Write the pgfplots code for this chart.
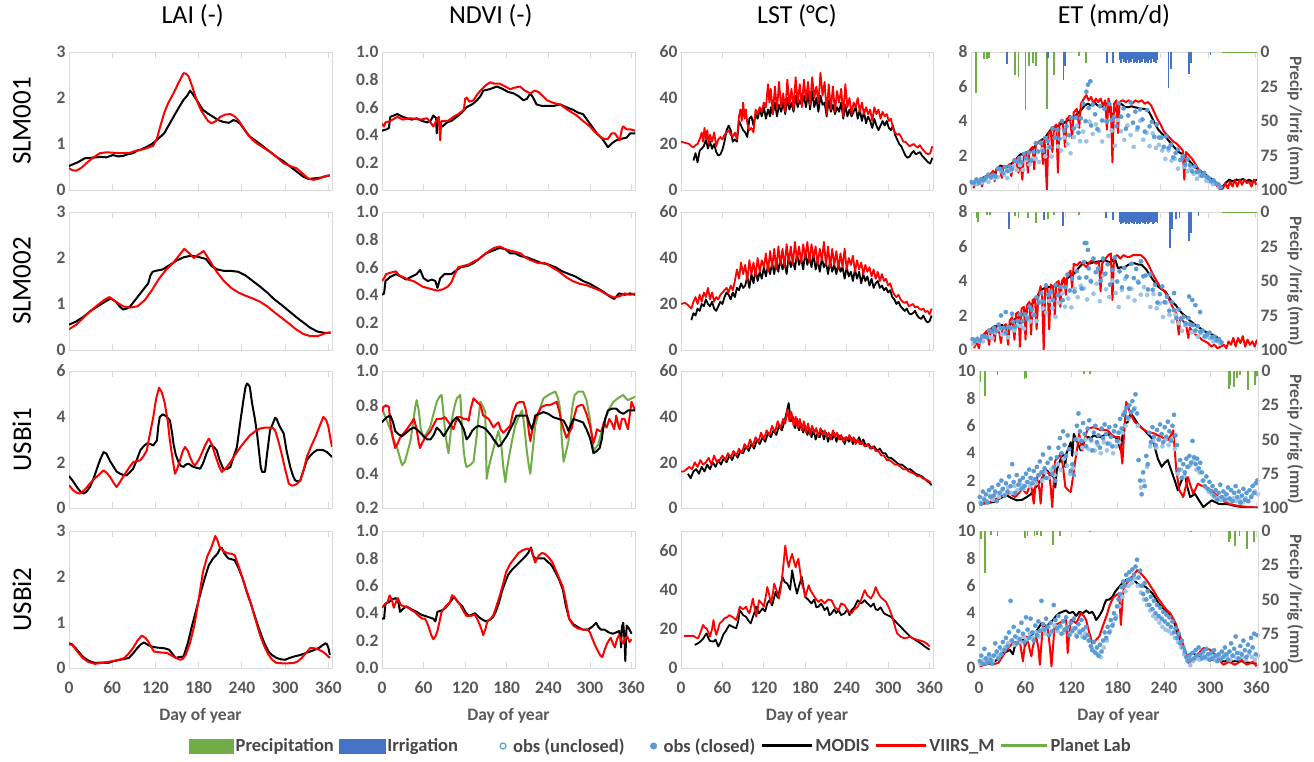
\documentclass[border=0pt]{standalone}
\usepackage{pgfplots}
\pgfplotsset{compat=1.18}
\usepackage{fontspec}
\setmainfont{Carlito}

\definecolor{txtgray}{HTML}{595959}
\definecolor{framegray}{HTML}{D9D9D9}
\definecolor{viirsred}{HTML}{FF0000}
\definecolor{planetgreen}{HTML}{70AD47}
\definecolor{precipgreen}{HTML}{70AD47}
\definecolor{irrigblue}{HTML}{4472C4}
\definecolor{obsdark}{HTML}{5B9BD5}
\definecolor{obslight}{HTML}{9DC3E6}

\pgfplotsset{
  base/.style={
    scale only axis, anchor=north west,
    xmin=0, xmax=365, xtick={0,60,...,360},
    axis line style={framegray, line width=0.9pt},
    xtick style={framegray, line width=0.9pt},
    ytick style={draw=none},
    tick align=inside, major tick length=6pt,
    tick label style={font=\bfseries\fontsize{17.5}{17.5}\selectfont, text=txtgray},
    /pgf/number format/assume math mode=true,
  },
  noxlab/.style={xticklabels={}},
  daylab/.style={xlabel={Day of year},
    xticklabel style={yshift=-10pt},
    xlabel style={font=\bfseries\fontsize{17.5}{17.5}\selectfont, text=txtgray,
      at={(axis description cs:0.5,-0.35)}, anchor=center}},
  rowlab/.style={ylabel={#1},
    ylabel style={font=\fontsize{27}{27}\selectfont, text=black,
      at={(axis description cs:-0.179,0.5)}, anchor=center}},
  coltitle/.style 2 args={title={#1},
    title style={font=\fontsize{26}{26}\selectfont, text=black,
      at={(axis description cs:#2,1.217)}, anchor=center}},
  onedec/.style={yticklabel style={/pgf/number format/.cd, fixed, fixed zerofill, precision=1}},
  modisline/.style={black, line width=2pt, line join=round},
  viirsline/.style={viirsred, line width=2pt, line join=round},
  planetline/.style={planetgreen, line width=2pt, line join=round},
  obsclosed/.style={only marks, mark=*, mark size=2.1pt, mark options={fill=obsdark, draw=obsdark}},
  obsunclosed/.style={only marks, mark=*, mark size=2.1pt, mark options={fill=obslight, draw=obslight}},
  precipbar/.style={ycomb, precipgreen, line width=1.8pt},
  irrigbar/.style={ycomb, irrigblue, line width=1.8pt},
  rightax/.style={base, xmax=362, axis y line*=right, axis x line=none,
    ymin=0, ymax=100, y dir=reverse, ytick={0,25,50,75,100},
    ylabel={Precip /Irrig (mm)},
    ylabel style={font=\bfseries\fontsize{17.5}{17.5}\selectfont, text=txtgray,
      at={(axis description cs:1.133,0.5)}, anchor=center, rotate=180}},
}

\begin{document}
\begin{tikzpicture}
\useasboundingbox (0,0) rectangle (1314pt,762pt);

%================ Row 1 : SLM001 ================
\begin{axis}[base, noxlab, at={(69pt,710pt)}, width=263pt, height=138pt,
  ymin=0, ymax=3, ytick={0,1,2,3}, rowlab={SLM001}, coltitle={LAI (-)}{0.47}]
\addplot[modisline] coordinates {(0,0.5)(1,0.53)(12,0.6)(22,0.69)(32,0.7)(43,0.72)(52,0.71)(61,0.76)(68,0.73)(75,0.74)(82,0.78)(89,0.8)(95,0.86)(100,0.88)(108,0.94)(115,1.0)(122,1.09)(132,1.23)(140,1.45)(145,1.59)(152,1.78)(159,1.96)(164,2.05)(168,2.16)(172,2.08)(177,1.96)(186,1.74)(193,1.66)(200,1.59)(207,1.52)(214,1.48)(222,1.46)(228,1.52)(232,1.5)(237,1.45)(244,1.3)(251,1.16)(260,1.06)(270,0.94)(279,0.83)(288,0.72)(298,0.62)(307,0.51)(316,0.4)(325,0.29)(332,0.24)(339,0.25)(350,0.27)(362,0.32)};
\addplot[viirsline] coordinates {(0,0.47)(5,0.43)(10,0.42)(17,0.48)(24,0.58)(33,0.7)(43,0.8)(52,0.82)(61,0.81)(73,0.8)(85,0.81)(92,0.85)(99,0.87)(106,0.9)(113,0.94)(117,0.96)(122,1.12)(127,1.4)(132,1.67)(138,1.9)(145,2.1)(152,2.33)(159,2.54)(162,2.53)(166,2.47)(171,2.25)(177,1.96)(183,1.74)(189,1.59)(193,1.5)(198,1.45)(204,1.5)(210,1.59)(217,1.64)(224,1.65)(230,1.6)(235,1.52)(241,1.38)(247,1.23)(254,1.1)(261,1.01)(270,0.92)(279,0.83)(288,0.72)(298,0.58)(307,0.52)(316,0.47)(324,0.36)(332,0.25)(339,0.22)(346,0.24)(353,0.29)(362,0.32)};
\end{axis}

\begin{axis}[base, noxlab, at={(382pt,710pt)}, width=253pt, height=138pt,
  ymin=0, ymax=1, ytick={0,0.2,...,1.0}, onedec, coltitle={NDVI (-)}{0.43}]
\addplot[modisline] coordinates {(0,0.43)(7,0.44)(10,0.45)(12,0.53)(17,0.54)(22,0.55)(30,0.53)(36,0.52)(43,0.51)(50,0.52)(58,0.5)(65,0.49)(70,0.5)(74,0.54)(78,0.52)(79,0.41)(80,0.5)(82,0.48)(87,0.46)(94,0.49)(100,0.5)(108,0.53)(115,0.56)(122,0.6)(130,0.62)(137,0.65)(142,0.68)(146,0.72)(155,0.73)(166,0.75)(175,0.73)(182,0.71)(190,0.7)(197,0.68)(204,0.65)(209,0.66)(214,0.7)(218,0.67)(223,0.62)(230,0.61)(238,0.61)(248,0.61)(257,0.62)(266,0.6)(276,0.58)(283,0.56)(290,0.55)(300,0.48)(310,0.41)(318,0.37)(326,0.31)(332,0.34)(338,0.36)(345,0.37)(353,0.38)(358,0.41)(365,0.41)};
\addplot[viirsline] coordinates {(0,0.48)(3,0.46)(5,0.49)(12,0.5)(22,0.53)(30,0.51)(41,0.52)(55,0.51)(65,0.52)(70,0.49)(74,0.46)(78,0.5)(82,0.53)(83,0.43)(84,0.36)(85,0.47)(86,0.5)(95,0.5)(103,0.53)(110,0.55)(118,0.58)(120,0.66)(122,0.67)(126,0.64)(132,0.65)(137,0.69)(142,0.72)(150,0.76)(156,0.78)(162,0.77)(170,0.77)(178,0.75)(185,0.73)(190,0.74)(199,0.75)(206,0.72)(214,0.7)(220,0.72)(226,0.71)(232,0.68)(238,0.65)(248,0.63)(257,0.62)(268,0.58)(281,0.54)(290,0.5)(300,0.46)(307,0.42)(314,0.39)(320,0.37)(326,0.37)(331,0.41)(336,0.41)(340,0.38)(343,0.36)(346,0.44)(348,0.46)(353,0.44)(358,0.44)(365,0.43)};
\end{axis}

\begin{axis}[base, noxlab, at={(681pt,710pt)}, width=252pt, height=138pt,
  ymin=0, ymax=60, ytick={0,20,40,60}, coltitle={LST (°C)}{0.46}]
\addplot[modisline, line width=1.8pt] coordinates {(18,12.8)(21,16)(24,12)(27,17)(30,18)(33,19)(36,22)(39,18)(42,21)(45,17.9)(48,20)(51,16.5)(54,15)(57,15.5)(60,17.5)(63,21)(66,26)(69,28)(72,26)(75,21)(78,22)(81,21)(84,30)(87,28)(90,26)(93,25)(96,23)(99,31)(102,32)(105,28)(108,33)(111,31)(114,35)(117,32)(120,36)(123,31)(126,35)(129,32)(130,36)(133,33)(136,38)(139,32)(142,37)(145,34)(148,38)(151,33)(154,40)(157,35)(160,38)(163,34)(166,41)(169,36)(172,39)(175,37)(178,41)(181,36)(184,42)(187,35)(190,43)(193,36)(196,40)(199,34)(202,41)(205,37)(208,38)(211,32)(214,39)(217,34)(220,37)(223,33)(226,36)(229,34)(232,38)(235,31)(238,37)(241,32)(244,35)(247,32)(250,34)(253,36)(256,31)(259,35)(262,30)(265,34)(268,29)(271,32)(274,30)(277,27)(280,31)(283,28)(286,26)(289,28)(292,30)(295,28)(298,30)(301,27)(304,26)(307,28)(310,24)(313,22)(316,20)(319,19)(322,17)(325,15)(328,14)(331,14.5)(334,16)(337,17)(340,15.5)(343,16)(346,16.5)(349,15)(352,14)(355,13)(358,12)(361,11.5)(364,14)};
\addplot[viirsline, line width=1.8pt] coordinates {(0,21)(6,20.5)(12,20)(15,19)(18,18.5)(21,19.5)(24,20)(27,22)(30,25)(32,21)(34,27)(36,22)(38,26)(40,20)(42,24)(45,21)(48,25)(51,19)(54,22)(57,23)(60,22)(63,24)(66,25)(69,26)(72,24)(75,23)(78,25)(81,22)(84,32)(86,35)(88,30)(90,38)(92,31)(94,35)(96,29)(99,26)(102,27)(105,25)(108,35)(111,33)(114,36)(117,34)(120,38)(123,36)(126,46)(128,38)(130,44)(133,33)(136,45)(139,35)(142,47)(145,36)(148,42)(151,34)(154,48)(157,37)(160,44)(163,35)(166,49)(169,38)(172,46)(175,36)(178,48)(181,39)(184,47)(187,37)(190,49)(193,40)(196,45)(199,38)(202,51)(205,41)(208,47)(211,33)(214,46)(217,35)(220,45)(223,34)(226,43)(229,38)(232,44)(235,32)(238,46)(241,36)(244,40)(247,33)(250,38)(253,36)(256,40)(259,34)(262,38)(265,33)(268,36)(271,33)(274,35)(277,30)(280,36)(283,33)(286,35)(289,31)(292,34)(295,32)(298,33)(301,30)(304,31)(307,27)(310,25)(313,24)(316,24.5)(319,23)(322,21)(325,21)(328,20)(331,19)(334,19.5)(337,20)(340,19)(343,18.5)(346,19.5)(349,18)(352,17)(355,16)(358,15.5)(361,16)(364,19)};
\end{axis}

\begin{axis}[base, noxlab, xmax=362, at={(971pt,710pt)}, width=286pt, height=138pt,
  ymin=0, ymax=8, ytick={0,2,...,8}, coltitle={ET (mm/d)}{0.5}]
\addplot[obsunclosed] coordinates {(2,0.35)(6,0.34)(10,0.4)(14,0.44)(18,0.59)(22,0.47)(26,0.75)(30,0.68)(34,0.75)(38,1.09)(42,0.89)(46,0.69)(50,1.1)(54,1.38)(58,1.15)(62,1.44)(66,1.17)(70,1.74)(74,1.48)(78,1.82)(82,1.81)(86,1.62)(90,2.36)(94,1.95)(98,2.48)(102,1.94)(106,3.03)(110,2.53)(114,2.29)(118,3.04)(122,2.65)(126,2.13)(130,3.07)(134,3.72)(138,2.83)(142,3.38)(146,2.82)(150,3.96)(154,3.25)(158,3.8)(162,3.42)(166,2.81)(170,4.0)(174,3.14)(178,3.45)(182,2.56)(186,4.05)(190,3.4)(194,2.91)(198,3.74)(202,3.19)(206,2.5)(210,3.48)(214,4.01)(218,2.91)(222,3.31)(226,2.54)(230,3.28)(234,2.44)(238,2.62)(242,2.29)(246,1.8)(250,2.3)(254,1.7)(258,1.82)(262,1.24)(266,1.76)(270,1.35)(274,1.08)(278,1.25)(282,0.94)(286,0.65)(290,0.82)(294,0.83)(298,0.53)(302,0.5)(306,0.33)(310,0.36)(314,0.2)};
\addplot[obsclosed] coordinates {(1,0.46)(4,0.43)(7,0.61)(10,0.43)(13,0.63)(16,0.56)(19,0.72)(22,0.89)(25,0.73)(28,0.88)(31,0.8)(34,1.24)(37,1.23)(40,0.99)(43,1.34)(46,1.1)(49,1.36)(52,1.22)(55,1.72)(58,1.63)(61,1.84)(64,1.61)(67,2.09)(70,1.84)(73,2.18)(76,1.7)(79,2.2)(82,2.71)(85,2.23)(88,2.73)(91,2.26)(94,3.02)(97,2.83)(100,2.48)(103,3.57)(106,3.03)(109,3.47)(112,2.97)(115,4.0)(118,3.43)(121,3.68)(124,3.17)(127,4.18)(130,3.57)(133,4.2)(136,3.32)(139,4.15)(142,5.0)(145,3.99)(146,5.7)(148,6.1)(149,4.75)(151,6.3)(152,3.74)(154,4.95)(157,4.39)(160,3.53)(163,4.86)(166,4.03)(169,4.7)(172,3.95)(175,4.99)(178,4.05)(181,4.23)(184,3.71)(187,5.02)(190,4.25)(193,4.73)(196,3.55)(199,4.32)(202,5.08)(205,3.9)(208,4.54)(211,3.62)(214,4.67)(217,4.09)(220,3.38)(223,4.63)(226,3.69)(229,3.95)(232,3.08)(235,3.8)(238,3.04)(241,3.04)(244,2.5)(247,3.11)(250,2.44)(253,2.62)(256,1.89)(259,2.14)(262,2.36)(265,1.74)(268,1.95)(271,1.48)(274,1.78)(277,1.44)(280,1.08)(283,1.37)(286,1.04)(289,1.08)(292,0.83)(295,0.99)(298,0.76)(301,0.68)(304,0.51)(307,0.56)(310,0.38)(313,0.33)(316,0.16)};
\addplot[modisline] coordinates {(11,0.54)(15,0.7)(20,0.83)(25,0.9)(29,0.93)(33,1.2)(37,1.41)(42,1.35)(46,1.32)(50,1.5)(54,1.61)(59,1.9)(63,2.09)(67,2.0)(71,2.19)(76,2.3)(80,2.48)(84,2.7)(88,2.87)(93,3.0)(97,3.25)(101,3.5)(105,3.64)(110,3.7)(114,3.83)(118,3.9)(122,4.03)(127,4.1)(131,4.22)(135,4.45)(139,4.61)(144,4.9)(148,5.0)(152,4.9)(156,5.1)(160,4.9)(165,4.8)(169,5.0)(173,5.0)(176,4.6)(178,4.13)(180,4.4)(182,4.61)(186,4.9)(190,5.0)(195,4.8)(199,4.8)(203,4.85)(207,4.8)(212,4.75)(216,4.7)(220,4.7)(224,4.61)(228,4.3)(233,3.83)(237,3.5)(242,3.25)(246,3.1)(250,2.87)(255,2.6)(259,2.38)(263,2.2)(267,2.09)(272,1.9)(276,1.7)(280,1.5)(284,1.32)(289,1.15)(293,1.03)(297,0.9)(301,0.74)(306,0.6)(310,0.45)(314,0.3)(318,0.15)(322,0.4)(327,0.6)(331,0.5)(336,0.6)(340,0.55)(344,0.64)(348,0.5)(352,0.6)(357,0.45)(362,0.6)};
\addplot[viirsline] coordinates {(3,0.1)(6,0.4)(9,0.3)(12,0.6)(14,0.2)(16,0.7)(20,0.8)(24,0.9)(28,1.1)(30,0.5)(32,1.2)(36,1.3)(39,0.7)(41,1.4)(45,1.3)(49,1.5)(51,0.8)(53,1.6)(57,1.8)(60,1.0)(62,1.9)(65,0.6)(67,2.1)(70,2.2)(72,1.0)(74,2.3)(78,2.5)(80,1.2)(82,2.6)(86,2.8)(89,2.9)(91,1.5)(93,3.0)(96,0.0)(98,3.3)(101,3.4)(103,2.2)(105,3.6)(108,3.8)(110,1.0)(112,3.9)(116,4.0)(119,2.5)(121,4.1)(125,4.3)(128,3.0)(130,4.5)(134,4.7)(137,3.6)(139,5.0)(143,5.3)(146,5.5)(149,5.2)(152,5.4)(155,5.0)(158,5.3)(161,5.1)(164,5.3)(167,4.9)(170,5.2)(172,3.5)(174,5.3)(177,4.8)(179,1.6)(181,5.0)(184,5.2)(186,3.3)(188,5.1)(192,5.2)(196,5.1)(200,5.2)(204,5.0)(208,5.2)(212,5.1)(216,5.2)(220,5.0)(224,5.1)(228,4.9)(232,4.5)(236,4.1)(240,3.8)(244,3.4)(248,3.2)(252,3.0)(256,2.8)(260,2.7)(264,2.5)(268,2.3)(270,0.6)(272,2.2)(276,2.0)(280,1.8)(284,1.5)(288,1.2)(292,1.0)(296,0.8)(300,0.6)(304,0.5)(308,0.4)(312,0.2)(316,0.0)(319,0.1)(322,0.4)(325,0.1)(328,0.5)(331,0.2)(334,0.6)(337,0.2)(340,0.6)(343,0.3)(346,0.6)(349,0.4)(352,0.5)(355,0.2)(358,0.6)(361,0.3)};
\end{axis}
\begin{axis}[rightax, at={(971pt,710pt)}, width=286pt, height=138pt]
\addplot[precipbar] coordinates {(6,30)(16,5)(20,5)(23,4)(46,8)(56,17)(60,18)(69,42)(73,10)(78,8)(82,10)(96,41)(105,17)(137,3)(146,8)};
\addplot[precipgreen, line width=1.5pt] coordinates {(318,0.5)(362,0.5)};
\addplot[irrigbar] coordinates {(46,9)(97,4)(117,20)(119,10)(172,8)(180,8)(188,6)(190,8)(192,5)(194,7)(196,8)(198,6)(200,8)(202,7)(204,5)(206,8)(208,7)(210,8)(212,6)(214,8)(216,7)(218,5)(220,8)(222,7)(224,8)(226,6)(228,8)(230,5)(232,7)(234,8)(236,6)(250,26)(253,12)(276,16)(278,8)(303,2)};
\end{axis}

%================ Row 2 : SLM002 ================
\begin{axis}[base, noxlab, at={(69pt,550pt)}, width=263pt, height=138pt,
  ymin=0, ymax=3, ytick={0,1,2,3}, rowlab={SLM002}]
\addplot[modisline] coordinates {(0,0.55)(10,0.62)(20,0.72)(30,0.85)(40,0.95)(50,1.05)(58,1.12)(65,1.05)(70,0.95)(75,0.88)(80,0.9)(85,0.95)(95,1.15)(105,1.35)(110,1.45)(113,1.62)(116,1.7)(120,1.72)(130,1.75)(140,1.85)(150,1.95)(160,2.02)(170,2.05)(180,2.02)(190,1.98)(198,1.82)(206,1.75)(215,1.72)(225,1.72)(235,1.7)(245,1.62)(255,1.5)(265,1.38)(275,1.25)(285,1.1)(295,0.98)(305,0.85)(315,0.72)(325,0.6)(335,0.48)(345,0.4)(355,0.37)(363,0.38)};
\addplot[viirsline] coordinates {(0,0.45)(10,0.55)(20,0.7)(30,0.85)(40,0.98)(50,1.1)(56,1.15)(65,1.05)(75,0.95)(85,0.92)(95,0.95)(105,1.08)(115,1.3)(125,1.55)(135,1.75)(145,1.9)(155,2.1)(160,2.2)(167,2.1)(173,2.0)(180,2.08)(187,2.15)(195,1.95)(205,1.7)(215,1.5)(225,1.35)(235,1.25)(245,1.18)(255,1.12)(265,1.05)(275,0.95)(285,0.82)(295,0.7)(305,0.58)(315,0.45)(325,0.35)(335,0.3)(345,0.3)(355,0.36)(363,0.38)};
\end{axis}

\begin{axis}[base, noxlab, at={(382pt,550pt)}, width=253pt, height=138pt,
  ymin=0, ymax=1, ytick={0,0.2,...,1.0}, onedec]
\addplot[modisline] coordinates {(0,0.4)(3,0.41)(5,0.5)(12,0.53)(20,0.55)(28,0.53)(35,0.51)(42,0.53)(50,0.55)(55,0.58)(60,0.52)(66,0.5)(72,0.51)(77,0.5)(80,0.45)(84,0.52)(90,0.55)(100,0.55)(108,0.58)(114,0.6)(124,0.61)(132,0.63)(140,0.66)(150,0.7)(160,0.72)(170,0.74)(178,0.73)(185,0.7)(192,0.7)(200,0.68)(210,0.67)(220,0.65)(230,0.63)(240,0.62)(250,0.6)(260,0.57)(270,0.55)(280,0.53)(290,0.5)(300,0.48)(310,0.45)(320,0.42)(328,0.39)(335,0.37)(342,0.41)(350,0.4)(358,0.41)(365,0.4)};
\addplot[viirsline] coordinates {(0,0.5)(3,0.52)(6,0.55)(12,0.56)(20,0.57)(25,0.54)(30,0.53)(38,0.51)(45,0.5)(52,0.48)(58,0.46)(65,0.45)(72,0.44)(80,0.43)(88,0.44)(95,0.46)(100,0.49)(105,0.55)(110,0.6)(118,0.61)(125,0.62)(132,0.64)(140,0.66)(147,0.69)(155,0.72)(162,0.74)(170,0.75)(178,0.73)(185,0.72)(193,0.71)(200,0.7)(207,0.67)(215,0.65)(225,0.63)(235,0.63)(245,0.6)(255,0.57)(265,0.53)(275,0.5)(285,0.48)(295,0.47)(305,0.45)(315,0.43)(325,0.4)(335,0.38)(343,0.39)(350,0.41)(358,0.4)(365,0.41)};
\end{axis}

\begin{axis}[base, noxlab, at={(681pt,550pt)}, width=252pt, height=138pt,
  ymin=0, ymax=60, ytick={0,20,40,60}]
\addplot[modisline, line width=1.8pt] coordinates {(15,13)(18,16)(21,15)(24,18)(27,17)(30,20)(33,19)(36,22)(39,20)(42,19)(45,21)(48,18)(51,17)(54,19)(57,21)(60,20)(63,23)(66,25)(69,24)(72,22)(75,25)(78,23)(81,27)(84,26)(87,29)(90,27)(93,28)(96,32)(99,27)(102,33)(105,29)(108,35)(111,30)(114,34)(117,31)(120,36)(123,32)(126,37)(129,33)(132,38)(135,33)(138,39)(141,34)(144,40)(147,35)(150,38)(153,33)(156,41)(159,36)(162,39)(165,35)(168,42)(171,37)(174,40)(177,35)(180,43)(183,37)(186,41)(189,36)(192,42)(195,35)(198,39)(201,34)(204,40)(207,36)(210,38)(213,33)(216,39)(219,34)(222,37)(225,33)(228,38)(231,34)(234,36)(237,31)(240,36)(243,32)(246,34)(249,30)(252,35)(255,31)(258,34)(261,29)(264,33)(267,30)(270,32)(273,28)(276,31)(279,27)(282,29)(285,30)(288,27)(291,28)(294,26)(297,27)(300,25)(303,26)(306,23)(309,22)(312,20)(315,21)(318,19)(321,18)(324,17)(327,18)(330,16)(333,15.5)(336,16)(339,17)(342,15)(345,14)(348,13.5)(351,15)(354,13)(357,12)(360,12.5)(363,15)};
\addplot[viirsline, line width=1.8pt] coordinates {(0,20)(6,20.5)(12,19)(15,18)(18,21)(21,23)(24,20)(27,24)(30,21)(33,25)(36,23)(39,27)(42,22)(45,25)(48,21)(51,23)(54,22)(57,24)(60,25)(63,26)(66,27)(69,25)(72,28)(75,26)(78,30)(81,35)(84,31)(87,38)(90,33)(93,37)(96,30)(99,39)(102,33)(105,38)(108,32)(111,40)(114,34)(117,39)(120,36)(123,42)(126,34)(129,43)(132,36)(135,44)(138,35)(141,45)(144,37)(147,44)(150,36)(153,46)(156,38)(159,45)(162,37)(165,47)(168,39)(171,45)(174,38)(177,46)(180,40)(183,47)(186,38)(189,46)(192,40)(195,45)(198,37)(201,44)(204,39)(207,47)(210,37)(213,45)(216,36)(219,44)(222,37)(225,43)(228,35)(231,42)(234,36)(237,44)(240,35)(243,40)(246,37)(249,41)(252,34)(255,39)(258,35)(261,38)(264,33)(267,37)(270,34)(273,36)(276,32)(279,35)(282,31)(285,34)(288,30)(291,33)(294,30)(297,31)(300,28)(303,29)(306,26)(309,24)(312,23)(315,24)(318,22)(321,21)(324,20.5)(327,21)(330,19)(333,19.5)(336,20)(339,18.5)(342,19)(345,18)(348,17.5)(351,18)(354,16.5)(357,17)(360,15.5)(363,18)};
\end{axis}

\begin{axis}[base, noxlab, xmax=362, at={(971pt,550pt)}, width=286pt, height=138pt,
  ymin=0, ymax=8, ytick={0,2,...,8}]
\addplot[obsunclosed] coordinates {(3,0.34)(7,0.55)(11,0.49)(15,0.5)(19,0.76)(23,0.75)(27,0.68)(31,1.01)(35,1.2)(39,0.9)(43,0.94)(47,0.74)(51,1.25)(55,1.14)(59,1.43)(63,1.39)(67,1.24)(71,1.92)(75,1.66)(79,2.06)(83,1.68)(87,2.82)(91,2.41)(95,2.16)(99,2.85)(103,2.43)(107,1.92)(111,2.74)(115,3.27)(119,2.51)(123,2.98)(127,2.47)(131,3.56)(135,3.06)(139,3.72)(143,3.57)(147,2.93)(151,4.02)(155,3.26)(159,3.84)(163,2.83)(167,4.32)(171,3.52)(175,3.07)(179,4.02)(183,3.3)(187,2.49)(191,3.48)(195,4.12)(199,3.06)(203,3.55)(207,2.87)(211,3.98)(215,3.21)(219,3.65)(223,3.19)(227,2.49)(231,3.24)(235,2.42)(239,2.7)(243,1.91)(247,2.74)(251,2.04)(255,1.65)(259,2.04)(263,1.55)(267,1.11)(271,1.43)(275,1.51)(279,1.03)(283,1.05)(287,0.77)(291,0.98)(295,0.72)(299,0.76)(303,0.66)(307,0.49)(311,0.58)(315,0.38)};
\addplot[obsclosed] coordinates {(2,0.63)(5,0.51)(8,0.65)(11,0.55)(14,0.79)(17,0.78)(20,0.73)(23,1.13)(26,1.04)(29,1.28)(32,1.09)(35,1.47)(38,2.0)(38,1.27)(41,1.27)(44,2.2)(44,1.01)(47,1.33)(50,1.28)(52,2.1)(53,1.65)(56,1.33)(59,1.69)(62,2.07)(65,1.67)(68,2.07)(71,1.82)(74,2.52)(77,2.33)(80,2.02)(83,3.05)(86,2.74)(89,3.29)(92,2.81)(95,3.74)(98,3.2)(101,3.38)(104,2.88)(107,3.77)(110,3.18)(113,3.66)(116,2.89)(119,3.65)(122,4.37)(125,3.45)(128,4.14)(131,3.38)(134,4.57)(137,4.18)(140,3.56)(143,5.1)(144,6.2)(146,6.2)(148,5.8)(146,4.21)(149,4.73)(152,3.97)(155,5.3)(158,4.51)(161,4.72)(164,4.02)(167,5.3)(170,4.42)(173,4.97)(176,3.79)(179,4.64)(182,5.36)(185,3.97)(188,4.56)(191,3.63)(194,4.75)(197,4.26)(200,3.56)(203,5.0)(206,4.17)(209,4.7)(212,3.91)(215,5.14)(218,4.27)(221,4.32)(224,3.51)(227,4.39)(230,3.49)(233,3.78)(236,2.75)(239,3.24)(242,3.68)(245,2.77)(248,3.09)(251,2.28)(254,2.77)(257,3.3)(257,2.31)(260,1.84)(263,2.35)(266,1.81)(269,1.93)(272,1.54)(275,1.85)(276,3.1)(278,1.48)(280,2.9)(281,1.44)(284,2.6)(284,1.13)(287,1.38)(290,2.2)(290,1.06)(293,1.13)(296,0.8)(299,0.9)(302,1.0)(305,0.73)(308,0.78)(311,0.55)(314,0.62)(317,0.44)};
\addplot[modisline] coordinates {(16,0.87)(22,1.1)(29,1.36)(34,1.4)(39,1.45)(46,1.26)(50,1.5)(54,1.74)(60,1.9)(67,2.13)(73,2.5)(80,2.8)(84,3.1)(88,3.48)(94,3.6)(101,3.67)(107,3.7)(114,3.78)(118,4.0)(122,4.16)(126,4.3)(131,4.45)(137,4.8)(144,5.13)(148,5.0)(152,5.03)(156,5.1)(161,5.13)(165,5.15)(169,5.23)(174,5.1)(178,5.13)(182,5.32)(186,4.74)(190,4.8)(193,4.74)(199,4.94)(203,5.0)(207,5.03)(212,4.95)(216,4.94)(222,4.65)(229,4.16)(233,3.9)(237,3.67)(242,3.5)(246,3.39)(250,3.1)(254,2.8)(259,2.61)(263,2.35)(267,2.13)(272,1.95)(276,1.74)(280,1.6)(284,1.45)(289,1.3)(293,1.16)(297,1.05)(301,0.97)(306,0.88)(310,0.78)(316,0.58)};
\addplot[viirsline] coordinates {(4,0.1)(7,0.5)(10,0.1)(12,0.6)(16,0.9)(20,1.1)(23,0.3)(25,1.2)(28,1.3)(30,0.5)(32,1.3)(35,1.2)(38,0.4)(40,1.3)(44,1.5)(47,0.3)(49,1.7)(52,1.9)(55,0.6)(57,2.1)(60,2.2)(62,0.2)(64,2.4)(67,2.5)(69,0.6)(71,2.6)(74,2.8)(76,0.9)(78,2.9)(81,3.0)(83,1.2)(85,3.0)(88,3.7)(90,3.2)(92,0.0)(94,3.8)(97,3.5)(99,1.2)(101,3.8)(104,3.6)(106,2.0)(108,3.9)(111,4.0)(113,2.5)(115,4.0)(118,4.2)(120,3.2)(122,4.3)(126,4.6)(128,3.6)(130,5.0)(134,4.9)(138,5.1)(142,5.0)(146,4.8)(150,5.1)(154,5.2)(158,5.0)(162,5.1)(164,3.4)(166,5.0)(170,5.3)(174,5.5)(177,5.6)(179,2.9)(181,5.4)(185,5.5)(189,5.3)(193,5.5)(197,5.4)(201,5.4)(205,5.5)(210,5.5)(215,5.5)(220,5.3)(225,4.9)(230,4.4)(235,4.0)(240,3.6)(245,3.4)(250,3.0)(255,2.5)(258,2.3)(260,2.1)(263,0.9)(265,1.9)(268,1.7)(272,1.5)(275,0.7)(277,1.3)(280,1.1)(284,0.9)(288,0.8)(292,0.6)(296,0.5)(300,0.4)(304,0.2)(308,0.3)(312,0.1)(316,0.2)(320,0.3)(323,0.1)(326,0.5)(329,0.3)(332,0.7)(335,0.2)(338,0.7)(341,0.4)(344,0.8)(347,0.2)(350,0.6)(353,0.3)(356,0.5)(359,0.2)(362,0.6)};
\end{axis}
\begin{axis}[rightax, at={(971pt,550pt)}, width=286pt, height=138pt]
\addplot[precipbar] coordinates {(7,4)(9,7)(20,2)(24,2)(56,3)(60,4)(72,4)(82,8)(97,5)(105,2)(137,2)};
\addplot[precipgreen, line width=1.5pt] coordinates {(318,0.5)(362,0.5)};
\addplot[irrigbar] coordinates {(48,12)(92,6)(116,10)(171,4)(180,6)(188,7)(190,9)(192,8)(194,7)(196,9)(198,8)(200,9)(202,7)(204,8)(206,9)(208,7)(210,9)(212,8)(214,9)(216,7)(218,8)(220,9)(222,7)(224,9)(226,8)(228,7)(230,9)(232,8)(234,7)(236,8)(252,26)(254,12)(259,5)(264,4)(276,21)(278,15)(288,3)};
\end{axis}

%================ Row 3 : USBi1 ================
\begin{axis}[base, noxlab, at={(69pt,391pt)}, width=263pt, height=137pt,
  ymin=0, ymax=6, ytick={0,2,4,6}, rowlab={USBi1}]
\addplot[modisline] coordinates {(0,1.4)(5,1.2)(11,0.92)(15,0.75)(20,0.63)(24,0.7)(29,0.92)(33,1.2)(38,1.65)(43,2.1)(48,2.45)(52,2.38)(57,2.05)(62,1.8)(66,1.6)(71,1.5)(75,1.45)(80,1.43)(84,1.55)(89,1.72)(94,2.1)(99,2.53)(104,2.72)(108,2.82)(113,2.8)(117,2.74)(122,2.96)(124,3.6)(126,3.99)(130,4.1)(133,4.06)(137,3.95)(140,3.84)(143,3.3)(145,2.82)(148,2.35)(152,2.01)(155,1.85)(159,1.8)(162,1.9)(166,1.94)(170,1.85)(173,1.8)(178,1.75)(182,1.72)(186,1.95)(191,2.4)(196,2.74)(200,2.7)(205,2.53)(209,2.1)(214,1.72)(219,1.7)(224,1.8)(228,2.2)(233,2.67)(237,3.6)(242,4.72)(245,5.3)(247,5.45)(249,5.4)(251,5.3)(254,4.6)(258,3.9)(261,3.26)(264,2.4)(266,1.8)(268,1.58)(272,1.58)(275,2.4)(279,3.4)(283,3.7)(286,3.95)(288,3.91)(292,3.6)(298,3.26)(302,2.5)(307,1.8)(311,1.4)(314,1.21)(318,1.15)(321,1.21)(325,1.6)(330,2.09)(335,2.3)(340,2.45)(344,2.53)(348,2.55)(353,2.53)(358,2.45)(365,2.23)};
\addplot[viirsline] coordinates {(0,1.0)(5,0.8)(10,0.68)(15,0.63)(22,0.8)(29,1.07)(36,1.3)(43,1.5)(48,1.65)(52,1.55)(57,1.36)(62,1.1)(66,0.92)(70,1.1)(75,1.36)(82,1.7)(89,2.01)(94,2.05)(99,2.09)(104,2.3)(108,2.53)(112,3.2)(117,3.99)(121,4.8)(125,5.27)(129,5.05)(133,4.57)(137,3.8)(140,2.96)(144,2.1)(147,1.5)(150,1.7)(154,2.09)(158,2.5)(161,2.67)(165,2.5)(168,2.23)(172,1.95)(175,1.87)(180,2.1)(184,2.38)(189,2.75)(194,3.04)(198,2.8)(203,2.31)(208,1.85)(212,1.58)(218,1.75)(224,2.01)(231,2.35)(238,2.67)(245,2.95)(251,3.18)(258,3.35)(265,3.48)(272,3.52)(279,3.52)(283,3.5)(286,3.4)(290,3.0)(295,2.38)(300,1.7)(305,1.07)(309,0.98)(312,0.99)(316,1.05)(321,1.21)(326,1.7)(330,2.23)(336,2.7)(342,3.11)(348,3.6)(353,3.99)(357,3.85)(360,3.55)(363,3.0)(365,2.67)};
\end{axis}

\begin{axis}[base, noxlab, at={(382pt,391pt)}, width=253pt, height=137pt,
  ymin=0.2, ymax=1, ytick={0.2,0.4,...,1.0}, onedec]
\addplot[planetline] coordinates {(0,0.78)(2,0.76)(7,0.71)(12,0.66)(17,0.6)(22,0.55)(26,0.49)(29,0.45)(33,0.47)(37,0.53)(41,0.59)(45,0.7)(48,0.79)(50,0.83)(53,0.77)(56,0.66)(60,0.61)(65,0.64)(70,0.68)(75,0.76)(79,0.82)(83,0.85)(86,0.86)(88,0.78)(91,0.65)(94,0.56)(96,0.52)(98,0.6)(101,0.72)(105,0.8)(108,0.84)(113,0.86)(115,0.7)(118,0.53)(120,0.47)(122,0.44)(127,0.45)(132,0.47)(136,0.6)(139,0.72)(142,0.82)(146,0.79)(149,0.76)(150,0.55)(151,0.37)(153,0.42)(156,0.47)(161,0.55)(168,0.65)(172,0.57)(175,0.44)(178,0.35)(180,0.42)(182,0.47)(187,0.58)(192,0.68)(197,0.73)(202,0.77)(205,0.69)(209,0.53)(212,0.44)(214,0.4)(217,0.52)(221,0.68)(226,0.76)(233,0.84)(240,0.86)(245,0.87)(250,0.88)(254,0.84)(257,0.78)(259,0.62)(262,0.47)(265,0.52)(269,0.59)(272,0.7)(275,0.8)(278,0.86)(283,0.88)(290,0.88)(295,0.83)(300,0.72)(303,0.62)(305,0.53)(308,0.55)(312,0.57)(317,0.65)(322,0.72)(328,0.78)(334,0.82)(340,0.84)(348,0.86)(352,0.84)(355,0.83)(360,0.84)(365,0.85)};
\addplot[viirsline] coordinates {(0,0.76)(2,0.79)(6,0.8)(10,0.79)(12,0.7)(15,0.62)(19,0.55)(23,0.58)(26,0.61)(30,0.63)(36,0.66)(41,0.69)(46,0.72)(50,0.66)(53,0.58)(55,0.55)(58,0.58)(62,0.61)(66,0.63)(70,0.65)(75,0.69)(79,0.72)(85,0.72)(91,0.73)(96,0.7)(100,0.68)(103,0.66)(106,0.7)(110,0.73)(114,0.73)(118,0.72)(122,0.72)(125,0.71)(128,0.78)(132,0.84)(137,0.82)(142,0.8)(146,0.74)(150,0.73)(154,0.72)(158,0.69)(161,0.67)(165,0.69)(168,0.7)(171,0.66)(175,0.64)(180,0.66)(185,0.68)(189,0.76)(194,0.81)(199,0.82)(204,0.82)(207,0.78)(209,0.74)(212,0.64)(214,0.59)(217,0.66)(221,0.72)(226,0.76)(230,0.79)(236,0.8)(242,0.8)(247,0.81)(252,0.82)(256,0.76)(259,0.7)(262,0.66)(266,0.61)(270,0.64)(274,0.67)(277,0.73)(281,0.79)(286,0.8)(290,0.8)(295,0.75)(300,0.68)(303,0.62)(305,0.58)(308,0.62)(310,0.66)(314,0.65)(317,0.65)(320,0.7)(324,0.67)(328,0.72)(331,0.7)(335,0.66)(338,0.74)(341,0.68)(343,0.66)(346,0.72)(350,0.72)(353,0.68)(355,0.66)(358,0.76)(360,0.82)(363,0.79)(365,0.77)};
\addplot[modisline] coordinates {(0,0.7)(2,0.71)(7,0.73)(12,0.74)(16,0.7)(19,0.65)(24,0.63)(29,0.62)(35,0.64)(41,0.66)(46,0.67)(50,0.66)(55,0.64)(60,0.62)(65,0.6)(70,0.6)(75,0.63)(79,0.67)(84,0.65)(89,0.62)(95,0.66)(101,0.7)(105,0.72)(108,0.73)(113,0.7)(118,0.66)(122,0.6)(126,0.62)(130,0.65)(135,0.67)(139,0.68)(146,0.67)(150,0.66)(154,0.64)(158,0.62)(161,0.6)(165,0.58)(168,0.56)(172,0.57)(175,0.59)(180,0.62)(185,0.66)(190,0.7)(194,0.74)(200,0.74)(205,0.74)(209,0.74)(212,0.7)(216,0.66)(219,0.7)(221,0.74)(227,0.75)(233,0.76)(240,0.75)(247,0.73)(255,0.72)(262,0.71)(266,0.68)(269,0.65)(272,0.68)(276,0.72)(283,0.71)(290,0.7)(295,0.66)(300,0.61)(303,0.56)(305,0.52)(309,0.53)(314,0.55)(317,0.6)(319,0.66)(322,0.72)(326,0.77)(332,0.78)(338,0.78)(343,0.76)(348,0.75)(352,0.76)(355,0.77)(360,0.77)(365,0.77)};
\end{axis}

\begin{axis}[base, noxlab, at={(681pt,391pt)}, width=252pt, height=137pt,
  ymin=0, ymax=60, ytick={0,20,40,60}]
\addplot[modisline, line width=1.8pt] coordinates {(10,15)(14,13)(18,16)(22,17)(26,15)(30,18)(34,16)(38,19)(42,17)(46,20)(50,18)(54,21)(58,19)(62,22)(66,20)(70,23)(74,21)(78,24)(82,22)(86,25)(90,24)(94,27)(98,25)(102,28)(106,26)(110,30)(114,28)(118,31)(122,29)(126,33)(130,31)(134,34)(138,32)(142,36)(146,34)(150,38)(153,42)(156,46)(159,38)(162,40)(165,35)(168,39)(171,34)(174,37)(177,33)(180,36)(183,32)(186,35)(189,31)(192,34)(195,30)(198,33)(201,31)(204,34)(207,30)(210,33)(213,29)(216,32)(219,30)(222,33)(225,29)(228,32)(231,30)(234,31)(237,28)(240,31)(243,29)(246,31)(249,28)(252,30)(255,29)(258,31)(261,28)(264,30)(268,27)(272,28)(276,26)(280,27)(284,25)(288,26)(292,24)(296,24)(300,22)(304,22)(308,21)(312,20)(316,19)(320,19)(324,18)(328,17)(332,17)(336,16)(340,15)(344,14.5)(348,14)(352,13)(356,12)(360,11)(363,10)};
\addplot[viirsline, line width=1.8pt] coordinates {(0,16)(4,16)(8,17)(12,18)(16,17)(20,20)(24,18)(28,21)(32,19)(36,20)(40,22)(44,19)(48,23)(52,20)(56,21)(60,23)(64,21)(68,24)(72,22)(76,25)(80,23)(84,26)(88,24)(92,28)(96,26)(100,30)(104,27)(108,31)(112,29)(116,33)(120,30)(124,34)(128,32)(132,36)(136,33)(140,38)(144,35)(148,39)(151,37)(154,43)(157,38)(160,42)(163,36)(166,40)(169,35)(172,39)(175,34)(178,38)(181,33)(184,37)(187,32)(190,36)(193,33)(196,35)(199,31)(202,35)(205,32)(208,34)(211,31)(214,33)(217,30)(220,34)(223,31)(226,33)(229,30)(232,32)(235,29)(238,31)(241,30)(244,32)(247,29)(250,31)(253,28)(256,30)(259,28)(262,29)(266,27)(270,28)(274,26)(278,27)(282,25)(286,25)(290,23)(294,23)(298,21)(302,21)(306,20)(310,19)(314,19)(318,18)(322,17)(326,17)(330,16)(334,15.5)(338,15)(342,14)(346,14)(350,13)(354,12.5)(358,12)(362,11)};
\end{axis}

\begin{axis}[base, noxlab, xmax=362, at={(979pt,391pt)}, width=279pt, height=137pt,
  ymin=0, ymax=10, ytick={0,2,...,10}]
\addplot[obsunclosed] coordinates {(2,0.4)(6,0.7)(10,0.5)(14,0.9)(18,0.6)(22,1.1)(26,0.8)(30,1.3)(34,1.0)(38,1.5)(42,1.1)(46,1.6)(50,1.3)(54,1.7)(58,1.4)(62,1.9)(66,1.6)(70,2.1)(74,1.8)(78,2.4)(82,2.0)(86,2.6)(90,2.2)(94,2.8)(98,2.4)(102,3.2)(106,2.8)(110,3.6)(114,3.1)(118,2.5)(122,2.9)(126,4.0)(130,5.0)(134,4.4)(138,5.0)(142,4.3)(146,4.9)(150,4.2)(154,4.6)(158,4.0)(162,4.8)(166,4.2)(170,4.7)(174,4.0)(178,4.5)(182,4.8)(186,5.5)(190,6.0)(194,6.5)(198,7.0)(202,7.3)(206,6.0)(210,1.5)(214,2.0)(218,3.0)(222,4.5)(226,4.9)(230,4.4)(234,5.0)(238,4.5)(242,5.0)(246,4.6)(250,5.0)(254,4.3)(258,2.5)(262,2.8)(266,2.3)(270,3.0)(274,3.1)(278,3.4)(282,2.8)(286,2.6)(290,2.0)(294,1.5)(298,1.2)(302,1.0)(306,0.8)(310,0.7)(314,0.6)(318,0.8)(322,0.6)(326,0.5)(330,0.7)(334,0.5)(338,0.6)(342,0.4)(346,0.7)(350,0.5)(354,0.9)(358,1.2)(362,1.0)};
\addplot[obsclosed] coordinates {(1,0.8)(3,0.3)(5,1.2)(7,0.6)(9,1.0)(11,0.4)(13,1.3)(15,0.8)(17,1.5)(19,0.9)(21,1.2)(23,0.5)(25,1.7)(27,1.1)(29,2.0)(31,1.4)(33,0.9)(35,1.8)(37,1.2)(39,2.3)(41,1.6)(43,3.2)(45,1.9)(47,1.1)(49,2.4)(51,1.7)(53,2.0)(55,1.4)(57,2.2)(59,1.6)(61,2.5)(63,1.9)(65,2.8)(67,2.2)(69,1.8)(71,2.7)(73,2.1)(75,3.0)(77,2.4)(79,3.4)(81,2.6)(83,3.9)(85,2.9)(87,2.2)(89,3.3)(91,4.4)(93,3.6)(95,2.5)(97,3.0)(99,2.0)(101,3.7)(103,4.4)(105,5.1)(107,4.0)(109,5.6)(111,4.6)(113,3.8)(115,5.3)(117,4.3)(119,2.7)(121,3.2)(123,2.4)(125,5.0)(127,6.0)(129,6.9)(131,5.6)(133,4.9)(135,6.2)(137,5.4)(139,4.5)(141,5.8)(143,6.4)(145,5.0)(147,4.2)(149,5.5)(151,6.0)(153,4.8)(155,5.3)(157,4.4)(159,5.8)(161,5.1)(163,6.1)(165,5.4)(167,4.7)(169,5.9)(171,5.2)(173,4.5)(175,5.6)(177,6.0)(179,4.9)(181,5.5)(183,6.5)(185,5.8)(187,6.8)(189,7.0)(191,7.3)(193,6.6)(195,7.5)(197,7.0)(199,7.8)(201,7.2)(203,8.3)(205,6.9)(207,3.5)(209,2.0)(211,1.0)(213,2.6)(215,1.6)(217,3.8)(219,3.2)(221,5.5)(223,4.8)(225,5.9)(227,5.2)(229,4.6)(231,5.7)(233,5.0)(235,6.1)(237,5.4)(239,4.8)(241,5.9)(243,5.2)(245,6.3)(247,5.6)(249,4.9)(251,6.0)(253,6.8)(255,5.3)(257,4.6)(259,2.8)(261,3.5)(263,2.2)(265,3.2)(267,2.6)(269,3.6)(271,3.0)(273,3.8)(275,3.3)(277,4.9)(279,3.7)(281,3.2)(283,3.6)(285,2.9)(287,3.3)(289,2.6)(291,2.0)(293,1.6)(295,2.3)(297,1.4)(299,1.9)(301,1.2)(303,1.6)(305,0.9)(307,1.3)(309,0.6)(311,1.1)(313,1.7)(315,0.8)(317,1.2)(319,0.6)(321,1.0)(323,1.5)(325,0.7)(327,1.3)(329,0.5)(331,1.1)(333,1.6)(335,0.8)(337,1.2)(339,0.4)(341,0.9)(343,1.4)(345,0.6)(347,1.1)(349,0.5)(351,1.3)(353,0.8)(355,1.6)(357,1.1)(359,1.8)(361,2.0)};
\addplot[modisline] coordinates {(1,0.3)(10,0.35)(19,0.44)(27,0.7)(36,0.92)(43,0.7)(49,0.56)(56,0.6)(62,0.8)(67,1.0)(71,1.29)(76,1.7)(80,2.0)(84,2.4)(88,2.75)(92,2.5)(97,2.26)(99,1.5)(101,2.8)(106,3.6)(110,3.9)(112,3.0)(113,3.9)(115,4.2)(119,4.8)(121,3.8)(123,5.4)(127,4.9)(132,4.2)(136,4.8)(141,5.2)(145,5.1)(149,5.3)(153,5.2)(158,5.18)(162,5.3)(167,5.4)(171,5.25)(176,5.2)(180,5.0)(182,4.5)(184,4.2)(186,5.2)(189,6.15)(193,6.28)(197,6.9)(201,6.6)(206,6.15)(210,5.9)(215,5.67)(219,5.4)(223,5.18)(226,4.9)(228,4.45)(232,3.6)(237,3.0)(241,3.3)(245,3.5)(249,2.8)(254,2.0)(258,1.29)(262,1.9)(267,2.5)(270,1.6)(274,0.8)(277,0.9)(280,1.05)(285,0.6)(291,0.07)(296,0.3)(302,0.56)(306,0.45)(311,0.3)(318,0.28)(324,0.27)(332,0.15)(341,0.07)(350,0.05)(362,0.02)};
\addplot[viirsline] coordinates {(1,0.27)(8,0.35)(14,0.44)(20,0.6)(27,0.8)(33,0.95)(40,1.1)(44,0.9)(47,0.8)(52,1.1)(56,1.41)(59,1.2)(62,1.05)(65,1.5)(67,1.78)(69,1.2)(71,0.32)(73,1.5)(75,2.26)(78,1.5)(80,0.32)(82,2.0)(84,2.75)(88,2.6)(91,2.5)(93,1.5)(95,0.07)(97,2.0)(99,3.48)(103,3.7)(106,3.97)(109,3.0)(112,1.53)(116,1.3)(119,1.17)(122,2.3)(125,3.48)(128,4.6)(130,5.43)(132,4.7)(134,4.2)(137,5.0)(141,5.8)(145,5.85)(149,5.9)(153,5.8)(158,5.67)(162,5.7)(167,5.67)(171,5.4)(176,5.18)(179,5.2)(182,5.18)(184,4.3)(186,3.24)(188,5.2)(191,7.74)(193,7.5)(195,7.13)(198,6.7)(202,6.28)(206,6.1)(210,5.9)(214,5.7)(219,5.55)(223,5.5)(228,5.43)(232,5.3)(237,5.18)(241,5.05)(245,4.94)(249,5.3)(252,5.67)(254,4.2)(256,2.75)(258,2.0)(260,1.29)(263,1.0)(265,0.8)(268,1.5)(271,2.26)(274,1.7)(278,1.05)(281,1.4)(284,1.78)(288,1.65)(293,1.53)(297,1.4)(302,1.29)(306,1.05)(311,0.8)(315,0.6)(319,0.44)(325,0.3)(332,0.2)(341,0.12)(350,0.07)(362,0.02)};
\end{axis}
\begin{axis}[rightax, at={(979pt,391pt)}, width=279pt, height=137pt]
\addplot[precipbar] coordinates {(2,8)(8,18)(24,3)(59,6)(61,5)(136,2)(144,2)(324,13)(326,10)(331,12)(335,5)(339,3)(349,14)(358,10)(361,4)};
\end{axis}

%================ Row 4 : USBi2 ================
\begin{axis}[base, daylab, at={(69pt,231pt)}, width=263pt, height=137pt,
  ymin=0, ymax=3, ytick={0,1,2,3}, rowlab={USBi2}]
\addplot[modisline] coordinates {(0,0.54)(4,0.52)(10,0.42)(19,0.25)(27,0.16)(36,0.11)(45,0.12)(54,0.11)(62,0.15)(71,0.18)(77,0.2)(83,0.22)(89,0.32)(95,0.44)(100,0.52)(104,0.56)(110,0.5)(115,0.47)(121,0.45)(127,0.44)(133,0.43)(139,0.4)(144,0.3)(148,0.22)(153,0.24)(159,0.25)(165,0.55)(171,0.94)(177,1.3)(183,1.67)(189,2.0)(194,2.25)(200,2.4)(206,2.5)(209,2.6)(212,2.63)(216,2.5)(221,2.4)(226,2.38)(230,2.36)(235,2.2)(241,1.96)(247,1.65)(253,1.38)(259,1.08)(265,0.8)(271,0.55)(277,0.36)(282,0.28)(288,0.22)(294,0.19)(300,0.18)(306,0.22)(312,0.25)(320,0.28)(329,0.33)(338,0.38)(347,0.44)(352,0.5)(356,0.54)(358,0.52)(360,0.44)(362,0.29)};
\addplot[viirsline] coordinates {(0,0.52)(5,0.5)(12,0.35)(19,0.22)(27,0.13)(36,0.09)(48,0.12)(60,0.15)(69,0.18)(77,0.22)(83,0.32)(89,0.44)(95,0.6)(101,0.71)(106,0.66)(110,0.58)(114,0.46)(118,0.36)(127,0.34)(136,0.33)(145,0.25)(154,0.18)(158,0.2)(162,0.29)(168,0.55)(174,0.94)(180,1.5)(186,2.11)(192,2.45)(197,2.62)(200,2.75)(203,2.89)(206,2.8)(209,2.65)(215,2.55)(221,2.51)(226,2.5)(230,2.47)(235,2.25)(241,1.96)(247,1.67)(253,1.38)(259,1.05)(265,0.73)(271,0.48)(277,0.29)(282,0.18)(288,0.11)(300,0.1)(312,0.11)(318,0.15)(323,0.22)(329,0.33)(335,0.44)(341,0.43)(347,0.4)(353,0.35)(358,0.28)(362,0.22)};
\end{axis}

\begin{axis}[base, daylab, at={(382pt,231pt)}, width=253pt, height=137pt,
  ymin=0, ymax=1, ytick={0,0.2,...,1.0}, onedec]
\addplot[modisline] coordinates {(0,0.36)(3,0.36)(5,0.47)(10,0.48)(14,0.5)(20,0.51)(24,0.47)(26,0.41)(30,0.43)(35,0.45)(42,0.43)(50,0.41)(56,0.39)(62,0.38)(68,0.37)(74,0.36)(77,0.34)(80,0.41)(86,0.42)(92,0.44)(98,0.48)(104,0.52)(110,0.48)(116,0.45)(120,0.41)(125,0.38)(130,0.39)(134,0.4)(140,0.37)(146,0.35)(150,0.34)(155,0.35)(160,0.37)(164,0.41)(169,0.48)(173,0.56)(178,0.63)(182,0.68)(188,0.72)(194,0.75)(200,0.78)(206,0.81)(211,0.84)(215,0.88)(218,0.82)(221,0.8)(228,0.8)(234,0.8)(240,0.77)(243,0.76)(247,0.73)(251,0.69)(256,0.64)(261,0.57)(265,0.46)(270,0.36)(276,0.32)(282,0.3)(290,0.28)(297,0.28)(303,0.3)(309,0.33)(312,0.3)(316,0.28)(321,0.28)(327,0.26)(333,0.25)(338,0.26)(342,0.27)(344,0.22)(345,0.15)(346,0.3)(348,0.33)(350,0.2)(351,0.05)(352,0.2)(353,0.31)(356,0.29)(360,0.25)};
\addplot[viirsline] coordinates {(0,0.44)(5,0.47)(8,0.48)(11,0.53)(14,0.5)(17,0.44)(20,0.48)(23,0.51)(27,0.46)(32,0.45)(38,0.44)(43,0.42)(47,0.41)(53,0.38)(58,0.36)(62,0.36)(65,0.33)(68,0.29)(71,0.24)(74,0.21)(77,0.23)(80,0.27)(83,0.34)(86,0.41)(92,0.45)(98,0.48)(101,0.53)(104,0.52)(108,0.49)(113,0.46)(118,0.41)(122,0.38)(128,0.38)(134,0.39)(139,0.34)(143,0.29)(146,0.24)(149,0.28)(152,0.34)(157,0.36)(161,0.39)(165,0.45)(170,0.53)(175,0.62)(179,0.7)(185,0.76)(191,0.8)(197,0.84)(203,0.86)(209,0.87)(215,0.87)(218,0.82)(221,0.77)(226,0.82)(231,0.84)(236,0.83)(240,0.81)(246,0.77)(251,0.71)(256,0.65)(261,0.59)(266,0.47)(270,0.36)(276,0.31)(282,0.29)(290,0.28)(297,0.28)(300,0.26)(303,0.22)(307,0.17)(312,0.12)(315,0.09)(318,0.08)(321,0.13)(324,0.17)(327,0.2)(330,0.22)(333,0.18)(336,0.15)(339,0.21)(342,0.24)(345,0.2)(348,0.18)(351,0.22)(354,0.23)(357,0.19)(360,0.21)};
\end{axis}

\begin{axis}[base, daylab, at={(681pt,231pt)}, width=252pt, height=137pt,
  ymin=0, ymax=70, ytick={0,20,40,60}]
\addplot[modisline, line width=1.8pt] coordinates {(20,11.8)(24,12.5)(28,13.5)(32,15)(37,17.7)(40,15)(42,13.8)(47,13.5)(50,14.5)(54,11)(57,13)(61,16.9)(65,19)(70,22)(75,21)(80,20.3)(83,24)(85,29.6)(90,27)(94,26.2)(98,24)(101,22.8)(105,27)(109,31.3)(113,28)(118,30.4)(122,29)(125,33)(128,34.6)(132,32)(137,38.9)(140,36)(143,40)(147,46.5)(150,44)(154,43.1)(158,40)(161,49.9)(164,44)(168,38)(171,42)(175,46.5)(178,40)(180,36.3)(184,35)(189,33)(193,35)(196,31)(199,31.3)(203,33)(208,29.6)(212,31)(215,27)(218,27.9)(222,30)(225,28)(228,29.6)(232,27)(237,27.9)(241,30)(244,27)(247,29.6)(251,31)(256,34.6)(261,33)(266,34.6)(270,33)(275,31.3)(279,33)(282,30)(285,29.6)(289,31)(294,27.9)(299,27)(304,26.2)(310,24)(318,21.1)(325,18.5)(332,16)(340,14.2)(347,12.7)(353,11)(360,9.3)};
\addplot[viirsline, line width=1.8pt] coordinates {(4,16.4)(10,16.4)(18,16.4)(22,15.5)(25,15.2)(28,18)(32,22)(35,20.5)(37,20.3)(40,18)(42,16)(45,20)(47,24.5)(49,20)(51,16.9)(53,19)(56,22.8)(60,24)(63,25.4)(67,26)(70,27)(75,26)(80,24.5)(83,28)(85,31.3)(90,30)(94,31.3)(97,29)(99,27.9)(102,32)(104,35.5)(107,30)(109,26.2)(111,30)(113,34.6)(117,33)(120,31.3)(123,37)(125,41.4)(128,37)(130,33)(133,38)(135,43.1)(138,40)(142,35.5)(145,42)(147,48.2)(149,55)(151,62.5)(154,55)(156,51.5)(158,55)(161,58.3)(164,54)(166,51.5)(168,54)(170,55.8)(173,48)(175,43.1)(178,40)(180,36.3)(183,40)(185,42.3)(187,40)(189,38.9)(194,36)(199,33.8)(203,35)(208,33)(213,35)(218,34.6)(223,31)(228,29.6)(232,33)(237,32.1)(242,29)(247,27.9)(251,30)(256,31.3)(261,35)(266,39.7)(270,37)(275,35.5)(279,38)(282,41.4)(286,38)(289,36.3)(293,35)(297,33.8)(302,30)(306,26.2)(310,21)(313,17.7)(318,16)(323,15.2)(328,15.5)(332,16)(337,15)(342,14.4)(347,14)(351,13.5)(356,12.5)(360,11)};
\end{axis}

\begin{axis}[base, daylab, xmax=362, at={(979pt,231pt)}, width=279pt, height=137pt,
  ymin=0, ymax=10, ytick={0,2,...,10}]
\addplot[obsunclosed] coordinates {(2,0.3)(6,0.6)(10,0.4)(14,0.8)(18,0.5)(22,1.0)(26,0.9)(30,1.3)(34,1.5)(38,1.8)(42,2.0)(46,1.7)(50,2.2)(54,1.9)(58,2.3)(62,2.1)(66,2.5)(70,2.2)(74,2.6)(78,2.3)(82,2.8)(86,2.5)(90,3.0)(94,2.6)(98,3.1)(102,2.7)(106,3.0)(110,2.6)(114,3.0)(118,2.5)(122,2.9)(126,2.4)(130,2.7)(134,2.3)(138,2.5)(142,2.0)(146,1.5)(150,1.2)(154,1.0)(158,0.8)(162,1.5)(166,2.0)(170,2.7)(174,3.2)(178,3.8)(182,4.5)(186,5.2)(190,5.6)(194,6.0)(198,6.2)(202,6.5)(206,6.0)(210,5.5)(214,5.0)(218,4.6)(222,4.2)(226,3.8)(230,3.6)(234,3.3)(238,3.0)(242,2.8)(246,2.7)(250,2.5)(254,2.2)(258,1.9)(262,1.5)(266,1.0)(270,0.6)(274,0.2)(278,0.5)(282,0.7)(286,0.6)(290,0.9)(294,0.7)(298,1.0)(302,0.8)(306,0.6)(310,0.9)(314,0.7)(318,1.0)(322,0.8)(326,0.6)(330,0.9)(334,0.7)(338,1.1)(342,0.8)(346,0.6)(350,1.0)(354,0.8)(358,0.6)(362,0.9)};
\addplot[obsclosed] coordinates {(1,0.5)(3,0.9)(5,0.3)(7,1.4)(9,0.7)(11,0.4)(13,1.0)(15,0.6)(17,0.3)(19,0.9)(21,1.8)(23,1.2)(25,0.7)(27,1.5)(29,1.0)(31,1.9)(33,1.3)(35,2.2)(37,1.6)(39,2.6)(41,4.9)(43,2.0)(45,3.0)(47,2.3)(49,1.8)(51,2.7)(53,2.1)(55,3.3)(57,2.5)(59,1.9)(61,3.7)(63,2.8)(65,2.2)(67,3.6)(69,2.6)(71,2.0)(73,3.1)(75,2.4)(77,3.4)(79,2.7)(81,4.9)(83,3.2)(85,2.8)(87,3.6)(89,3.0)(91,2.4)(93,3.3)(95,2.7)(97,4.6)(99,3.5)(101,2.9)(103,3.8)(105,3.1)(107,2.5)(109,3.4)(111,2.8)(113,3.7)(115,3.0)(117,2.4)(119,3.3)(121,2.7)(123,3.6)(125,2.9)(127,2.3)(129,3.2)(131,2.6)(133,3.5)(135,2.8)(137,2.2)(139,3.0)(141,2.4)(143,2.0)(145,1.6)(147,1.3)(149,1.9)(151,1.1)(153,1.5)(155,0.9)(157,1.7)(159,1.2)(161,2.0)(163,2.6)(165,2.2)(167,3.0)(169,2.6)(171,3.5)(173,3.1)(175,4.0)(177,3.6)(179,4.5)(181,5.0)(183,5.4)(185,5.9)(187,6.3)(189,6.0)(191,6.8)(193,6.4)(195,7.0)(197,6.5)(199,7.2)(201,6.8)(203,7.4)(205,7.9)(207,6.6)(209,7.1)(211,6.0)(213,5.4)(215,6.2)(217,5.0)(219,5.6)(221,4.6)(223,5.2)(225,4.3)(227,4.9)(229,4.0)(231,4.6)(233,3.8)(235,4.4)(237,3.6)(239,4.1)(241,3.4)(243,3.9)(245,3.2)(247,3.7)(249,3.0)(251,3.4)(253,2.6)(255,2.9)(257,2.2)(259,2.5)(261,1.8)(263,2.0)(265,1.5)(267,1.2)(269,0.8)(271,0.5)(273,0.9)(275,0.6)(277,1.1)(279,0.7)(281,1.3)(283,0.9)(285,1.5)(287,1.0)(289,0.7)(291,1.2)(293,0.8)(295,1.4)(297,1.0)(299,0.6)(301,1.1)(303,0.7)(305,1.3)(307,0.9)(309,0.5)(311,1.0)(313,0.6)(315,1.2)(317,0.8)(319,1.5)(321,1.0)(323,0.6)(325,1.2)(327,1.8)(329,0.9)(331,1.4)(333,2.3)(335,1.1)(337,0.7)(339,1.6)(341,1.0)(343,2.0)(345,1.3)(347,0.8)(349,1.7)(351,1.2)(353,2.2)(355,1.5)(357,2.5)(359,1.0)(361,2.4)};
\addplot[modisline] coordinates {(6,0.24)(12,0.3)(18,0.36)(25,0.7)(31,1.09)(36,1.2)(40,1.33)(44,1.0)(46,1.5)(49,1.8)(53,1.9)(57,2.06)(60,1.6)(62,2.2)(66,2.3)(70,2.5)(74,2.66)(78,3.0)(81,3.27)(84,3.1)(87,3.0)(92,3.3)(96,3.5)(100,3.8)(104,4.0)(108,4.1)(113,4.2)(117,4.0)(122,4.1)(126,3.8)(130,4.1)(135,4.0)(139,4.2)(143,4.0)(147,4.1)(150,3.8)(152,3.5)(156,3.8)(160,4.2)(163,4.7)(165,4.96)(169,5.0)(173,5.2)(177,5.6)(182,5.93)(186,6.2)(190,6.4)(194,6.5)(199,6.65)(203,6.3)(208,6.05)(212,6.0)(216,5.93)(220,5.7)(225,5.45)(229,5.1)(233,4.72)(238,4.4)(242,4.2)(246,4.0)(250,3.75)(254,3.2)(257,2.54)(260,2.2)(263,1.8)(267,1.3)(270,0.85)(273,1.0)(276,1.09)(282,0.95)(289,0.85)(296,0.7)(302,0.6)(309,0.55)(315,0.48)(322,0.5)(328,0.48)(334,0.5)(341,0.48)(348,0.4)(354,0.36)(360,0.31)};
\addplot[viirsline] coordinates {(1,0.12)(8,0.25)(14,0.36)(20,0.3)(25,0.36)(30,0.8)(36,1.33)(40,1.6)(44,1.8)(48,1.9)(53,1.94)(55,1.2)(57,0.48)(59,1.5)(61,2.3)(64,1.8)(66,1.3)(68,0.85)(70,1.6)(74,2.3)(77,1.5)(79,0.24)(81,1.8)(83,3.27)(86,3.1)(89,3.0)(92,1.5)(94,0.12)(96,1.5)(98,3.14)(101,3.2)(104,3.27)(108,3.4)(113,3.5)(114,2.5)(115,1.09)(117,2.5)(119,3.5)(123,3.4)(126,3.27)(129,3.6)(132,4.0)(136,3.8)(139,3.5)(143,2.6)(147,1.8)(151,2.0)(156,2.3)(159,2.8)(162,3.27)(166,3.9)(169,4.48)(172,4.9)(175,5.2)(179,5.35)(182,5.45)(184,3.14)(186,4.8)(188,5.93)(192,6.2)(197,6.54)(201,6.8)(205,7.14)(210,6.9)(214,6.65)(219,6.3)(223,5.93)(227,5.6)(231,5.2)(236,4.8)(240,4.48)(244,4.2)(248,4.0)(252,3.6)(255,3.27)(258,2.8)(261,2.3)(265,1.7)(268,1.09)(270,0.7)(272,0.36)(276,0.6)(281,0.85)(286,1.15)(291,1.45)(296,1.4)(300,1.33)(304,1.1)(309,0.85)(313,0.5)(317,0.24)(321,0.35)(324,0.48)(328,0.35)(332,0.24)(337,0.4)(341,0.6)(344,0.4)(347,0.24)(352,0.35)(356,0.48)(360,0.12)};
\end{axis}
\begin{axis}[rightax, at={(979pt,231pt)}, width=279pt, height=137pt]
\addplot[precipbar] coordinates {(3,6)(8,31)(16,3)(24,4)(60,5)(63,4)(72,4)(75,3)(80,4)(96,10)(105,4)(144,1)(275,1)(324,8)(326,6)(332,11)(338,4)(348,13)(357,8)};
\end{axis}

%================ Shared legend ================
\begin{axis}[hide axis, scale only axis, width=100pt, height=20pt,
  at={(661pt,16pt)}, anchor=center, xmin=0, xmax=1, ymin=0, ymax=1,
  legend columns=7,
  legend style={at={(0.5,0.5)}, anchor=center, draw=none, fill=none,
    font=\bfseries\fontsize{18.5}{18.5}\selectfont, text=black!72,
    nodes={inner xsep=2pt, inner ysep=1pt},
    /tikz/every even column/.append style={column sep=3pt},
    /tikz/every odd column/.append style={column sep=0pt}}]
\addlegendimage{legend image code/.code={\fill[precipgreen] (0pt,-7pt) rectangle (44pt,7pt);}}
\addlegendentry{Precipitation}
\addlegendimage{legend image code/.code={\fill[irrigblue] (0pt,-7pt) rectangle (46pt,7pt);}}
\addlegendentry{Irrigation}
\addlegendimage{legend image code/.code={\path[draw=none, fill=none] (0pt,-3pt) rectangle (48pt,3pt); \draw[obsdark, fill=none, line width=1.2pt] (40pt,0pt) circle (3pt);}}
\addlegendentry{obs (unclosed)}
\addlegendimage{legend image code/.code={\path[draw=none, fill=none] (0pt,-3pt) rectangle (32pt,3pt); \fill[obsdark] (24pt,0pt) circle (3.3pt);}}
\addlegendentry{obs (closed)}
\addlegendimage{legend image code/.code={\draw[black, line width=3pt] (0pt,0pt) -- (50pt,0pt);}}
\addlegendentry{MODIS}
\addlegendimage{legend image code/.code={\draw[viirsred, line width=3pt] (0pt,0pt) -- (50pt,0pt);}}
\addlegendentry{VIIRS\_M}
\addlegendimage{legend image code/.code={\draw[planetgreen, line width=3pt] (0pt,0pt) -- (46pt,0pt);}}
\addlegendentry{Planet Lab}
\end{axis}
\end{tikzpicture}
\end{document}
